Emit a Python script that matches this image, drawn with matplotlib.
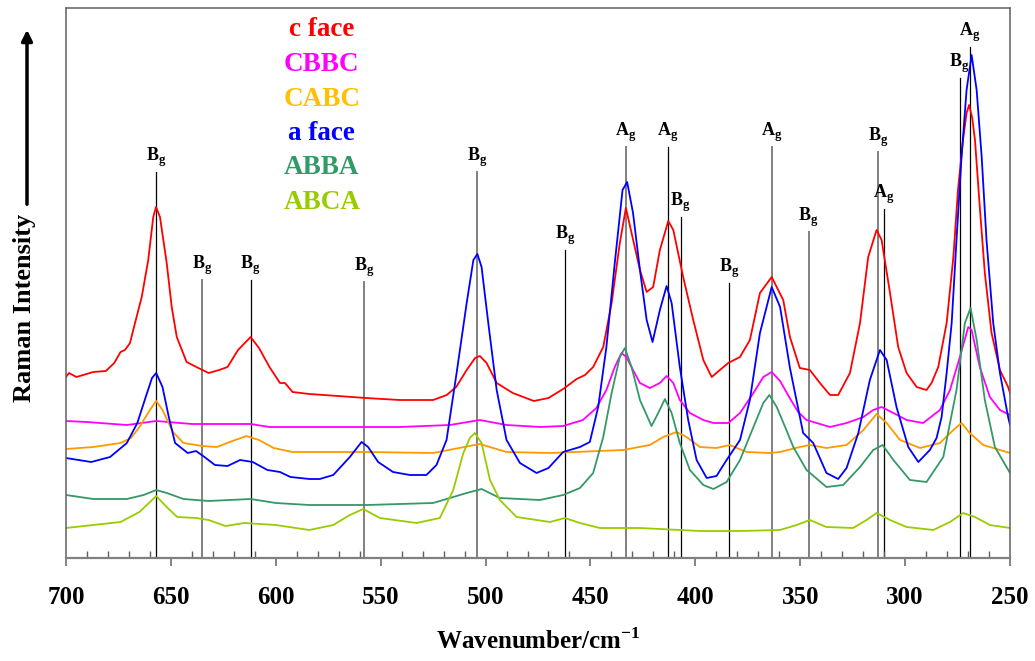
import matplotlib
matplotlib.use('Agg')
import matplotlib.pyplot as plt
from matplotlib.ticker import MultipleLocator

plt.rcParams['font.family'] = 'Liberation Serif'
plt.rcParams['font.weight'] = 'bold'
plt.rcParams['mathtext.fontset'] = 'custom'
plt.rcParams['mathtext.rm'] = 'Liberation Serif'
plt.rcParams['mathtext.bf'] = 'Liberation Serif:bold'

# Raman spectra, offset for display (arbitrary intensity units)
wn_cface = [700, 698.6, 695, 687, 681, 677, 674, 671.9, 669.5, 667.1, 663.9, 660.8, 658.4, 657.1, 655.2,
            652, 649.6, 647.2, 642.5, 636.9, 632, 627, 623, 618, 612, 608, 603, 598, 595.6, 592, 584, 577,
            557, 541, 525, 518.5, 514, 509, 505, 502.7, 499.5, 494.7, 487, 477, 470, 463, 456.6, 452.6,
            448.7, 443.9, 439.9, 436, 433.1, 430.4, 426.4, 423.2, 420.1, 416.9, 412.9, 410.5, 405.8, 401,
            396.2, 392.2, 388.3, 384.3, 378.7, 374, 369.2, 363.6, 358.1, 354.9, 350.2, 345.4, 340.6, 335.8,
            331.9, 326.3, 321.5, 317.6, 313.6, 311.2, 307.2, 303.3, 299.3, 294.5, 289.8, 287.4, 284.2,
            280.2, 277, 274.8, 272.4, 270.7, 269.5, 268, 266.7, 264.4, 262, 258.8, 254.8, 250.9, 250]
i_cface = [181, 185, 181, 186, 187, 195, 206, 208, 215, 235, 261, 298, 341, 351, 341,
           295, 251, 221, 196, 190, 185, 188, 191, 208, 221, 210, 191, 175, 175, 166, 164, 163,
           160, 158, 158, 163, 171, 188, 200, 202, 195, 175, 165, 157, 160, 169, 179, 183,
           191, 211, 255, 315, 350, 325, 288, 266, 271, 308, 337, 328, 281, 238,
           198, 181, 188, 195, 201, 218, 265, 281, 258, 221, 190, 188, 175, 163,
           163, 185, 235, 301, 328, 318, 265, 211, 185, 171, 168, 175, 191,
           235, 301, 368, 418, 445, 453, 440, 418, 351, 285, 225, 188, 171, 165]

wn_cbbc = [700, 690, 671, 657, 640, 624, 612, 603, 584, 541, 517, 502.7, 490, 474, 463, 453.6, 447.2,
           442.4, 438.4, 435.2, 432.9, 429.7, 426.4, 421.7, 416.9, 413.7, 410.5, 407.4, 402.6, 396.2,
           391.4, 384.3, 378.7, 372.3, 367.6, 363.6, 359.6, 355, 351, 347, 335.8, 327.9, 319.9, 315.2,
           311.2, 305.6, 299.3, 291.4, 283.4, 278.6, 273.9, 269.9, 268.3, 264.4, 259.6, 254.8, 250]
i_cbbc = [137, 136, 133, 137, 134, 134, 134, 131, 131, 131, 133, 138, 133, 131, 132, 138, 150,
          168, 191, 205, 201, 188, 175, 170, 175, 182, 175, 158, 145, 138,
          135, 135, 145, 165, 181, 186, 177, 160, 146, 138, 131, 135, 141, 148,
          151, 145, 138, 135, 148, 168, 201, 231, 228, 191, 161, 148, 143]

wn_cabc = [700, 687, 674, 669, 665, 660, 657, 654, 649, 644, 635, 628, 622, 614, 608, 601, 592, 584,
           557, 525, 502.7, 490, 469, 434.4, 421.7, 415.3, 408.9, 404.2, 397.8, 389.9, 383.5, 375.6,
           364.4, 359.7, 350.2, 345.4, 337.5, 327.9, 319.9, 313.6, 308.8, 302.4, 292.9, 283.4, 277,
           273.1, 269.2, 262.8, 250]
i_cabc = [109, 111, 115, 120, 131, 148, 157, 148, 126, 115, 112, 111, 116, 122, 118, 110, 106, 106,
          106, 105, 114, 106, 105, 108, 113, 121, 126, 121, 111, 110, 113, 106,
          105, 106, 111, 113, 110, 113, 128, 144, 135, 118, 110, 115, 128,
          135, 125, 113, 105]

wn_aface = [700, 688, 679, 671, 666, 662, 659, 657, 654, 651, 648, 642, 638, 634, 629, 623, 617, 611,
            604, 598, 593, 584, 579, 572.6, 564.7, 559.1, 556, 551.2, 544.1, 536.1, 528.2, 523.4, 518.6,
            513.8, 509, 505.8, 503.9, 501.9, 498.7, 494.7, 490, 483.6, 475.7, 470, 463, 455, 450.3,
            446.3, 442.4, 438.4, 434.7, 432.5, 429.7, 426.4, 423.2, 420.4, 416.9, 413.7, 411.3, 407.4,
            403.4, 399.4, 394.6, 389.9, 385.1, 378.7, 374, 369.2, 363.6, 359.6, 354.9, 348.6, 343.8,
            337.5, 331.9, 327.9, 322.3, 316.8, 312, 308.8, 304.1, 298.5, 293.7, 288.2, 285, 282.6,
            280.2, 277.8, 275.5, 273.1, 270.7, 268.3, 265.9, 263.5, 261.2, 258, 254.8, 250.9, 250]
i_aface = [100, 96, 101, 115, 135, 161, 180, 185, 171, 141, 115, 105, 107, 101, 93, 92, 98, 96,
           88, 86, 81, 79, 79, 83, 101, 116, 111, 96, 86, 83, 83, 93, 118,
           185, 255, 298, 304, 291, 235, 168, 118, 95, 85, 90, 106, 111, 116,
           151, 211, 295, 368, 376, 345, 288, 238, 216, 248, 272, 255, 191,
           138, 98, 80, 82, 98, 118, 158, 225, 271, 251, 190, 125, 115,
           85, 79, 90, 125, 178, 208, 198, 151, 111, 96, 108, 120, 141,
           185, 235, 318, 401, 468, 503, 468, 401, 318, 235, 185, 141, 133]

wn_abba = [700, 687, 671, 663, 657, 652, 644, 632, 612, 600, 584, 556.7, 525, 509, 501.9, 493.2, 474.1,
           463, 455, 448.7, 443.9, 439.9, 436, 433.6, 430.4, 426.4, 420.9, 417.7, 414.5, 411.3, 407.4,
           402.6, 396.2, 391.4, 385.1, 378.7, 372.3, 367.6, 364.7, 361.2, 357, 353.3, 347, 337.5,
           329.5, 321.5, 315.2, 310.7, 305.6, 297.7, 289.8, 281.8, 275.5, 271.5, 268.8, 265.9, 262,
           257.2, 250]
i_abba = [63, 59, 59, 63, 68, 65, 59, 57, 59, 55, 53, 53, 55, 65, 69, 60, 58,
          63, 70, 85, 121, 165, 201, 210, 191, 158, 132, 145, 159, 145, 115,
          88, 73, 69, 76, 98, 131, 155, 163, 151, 130, 111, 88, 71,
          73, 91, 108, 113, 98, 78, 76, 101, 168, 235, 250, 218, 158,
          111, 85]

wn_abca = [700, 687, 674, 665, 657, 652, 647, 638, 632, 624, 615, 600, 584, 572.6, 564.7, 558.3, 550.4,
           532.9, 521.8, 515.4, 510.6, 507.5, 505.1, 501.9, 497.9, 493.2, 485.2, 469.3, 462.2, 455,
           445.5, 426.4, 397.8, 378.7, 359.7, 351.7, 345.4, 337.5, 324.8, 318.4, 313.6, 307.2, 299.3,
           286.6, 278.6, 272.3, 266.7, 259.6, 250]
i_abca = [30, 33, 36, 46, 62, 51, 41, 40, 38, 32, 35, 33, 28, 33, 43, 49, 40,
          35, 40, 68, 105, 120, 125, 115, 78, 58, 41, 36, 40, 35,
          30, 30, 27, 27, 28, 33, 38, 31, 30, 38, 45, 38, 31,
          28, 36, 45, 41, 33, 30]

names = ['c face', 'CBBC', 'CABC', 'a face', 'ABBA', 'ABCA']
line_colors = ['#ff0000', '#ff00ff', '#ff9900', '#0000ff', '#339966', '#99cc00']
text_colors = ['#ff0000', '#ff00ff', '#ffc000', '#0000ff', '#339966', '#99cc00']
spectra = [(wn_cface, i_cface), (wn_cbbc, i_cbbc), (wn_cabc, i_cabc),
           (wn_aface, i_aface), (wn_abba, i_abba), (wn_abca, i_abca)]

# mode assignments: position, symmetry, height of marker line
mode_pos = [657, 635, 612, 558, 504, 462, 433, 413, 407, 384, 363.5, 346, 313, 310, 274, 269]
mode_sym = ['B', 'B', 'B', 'B', 'B', 'B', 'A', 'A', 'B', 'B', 'A', 'B', 'B', 'A', 'B', 'A']
mode_top = [386, 278, 278, 276, 386, 308, 411, 411, 341, 275, 411, 326, 406, 349, 480, 511]
mode_grey = [False, True, False, True, True, False, True, False, False, False, True, True, True,
             False, False, False]

fig = plt.figure(figsize=(10.35, 6.61), dpi=100)
ax = fig.add_axes([66/1035, 1-558/661, 944/1035, 550/661])

for (wn, inten), c in zip(spectra, line_colors):
    ax.plot(wn, inten, color=c, lw=1.3)

for p, s, t, g in zip(mode_pos, mode_sym, mode_top, mode_grey):
    if g:
        ax.plot([p, p], [0, t], color='#808080', lw=1.4, zorder=1)
    else:
        ax.plot([p, p], [0, t], color='black', lw=0.9, zorder=1)
    ax.text(p, t + 3, r'$\mathbf{%s}_\mathbf{g}$' % s, ha='center', va='bottom', fontsize=13)

legend_y = [36, 71, 106, 140, 174, 209]
for n, c, yb in zip(names, text_colors, legend_y):
    ax.text(0.271, (558 - yb) / 550, n, color=c, fontsize=19.5, fontweight='bold',
            ha='center', va='baseline', transform=ax.transAxes)

ax.set_xlim(700, 250)
ax.set_ylim(0, 550)
ax.set_yticks([])
ax.xaxis.set_major_locator(MultipleLocator(50))
ax.xaxis.set_minor_locator(MultipleLocator(10))
ax.tick_params(axis='x', which='major', direction='out', length=6, width=1.2, color='#707070',
               labelsize=18, pad=14)
ax.tick_params(axis='x', which='minor', direction='in', length=5, width=1, color='#606060')
for sp in ax.spines.values():
    sp.set_color('#606060')
    sp.set_linewidth(1.1)
ax.spines['bottom'].set_color('#808080')
ax.spines['bottom'].set_linewidth(1.6)

ax.set_xlabel('Wavenumber/cm' + r'$^{\mathbf{-1}}$', fontsize=18, fontweight='bold', labelpad=14)

fig.text(25/1035, 1 - 308/661, 'Raman Intensity', rotation=90, fontsize=19, fontweight='bold',
         ha='center', va='center')
fig.add_artist(matplotlib.patches.FancyArrowPatch((27/1035, 1 - 207/661), (27/1035, 1 - 27/661),
                                                  transform=fig.transFigure, arrowstyle='-|>',
                                                  mutation_scale=16, lw=2.5, color='black'))

plt.savefig('out.png', dpi=100)
